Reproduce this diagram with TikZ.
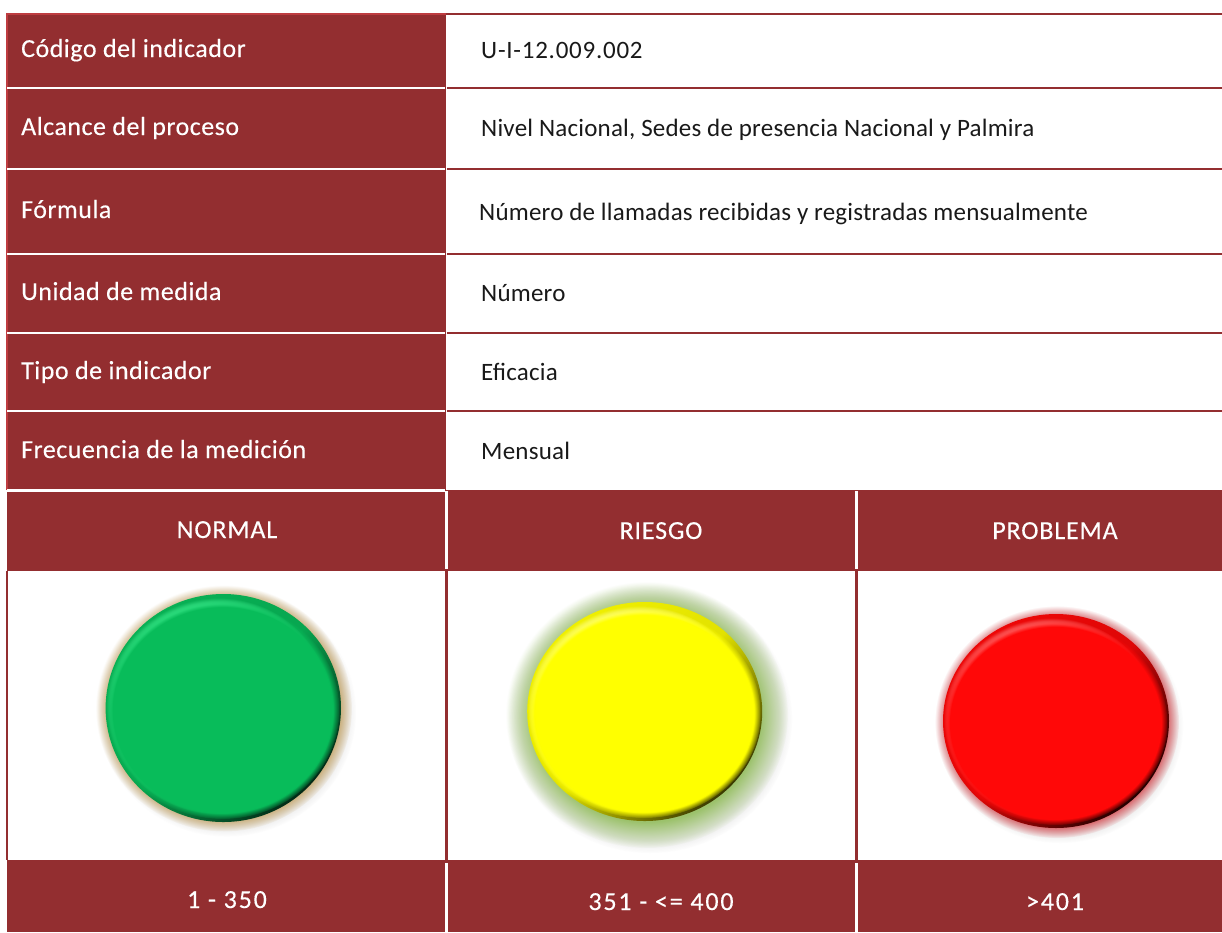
\documentclass[tikz,border=0pt]{standalone}
\usepackage{fontspec}
\setmainfont[LetterSpace=0.85]{Carlito}
\newfontfamily\digfont[LetterSpace=3]{Carlito}
\newfontfamily\labfont[LetterSpace=1.9,FakeBold=0.25]{Carlito}
\newfontfamily\headfont[LetterSpace=3.2,FakeBold=0.25]{Carlito}
\newfontfamily\numfont[LetterSpace=7,FakeBold=0.25]{Carlito}
\usetikzlibrary{fadings,shadings}
\definecolor{wine}{HTML}{932E30}
\definecolor{wineL}{HTML}{BE3C40}
\definecolor{gmain}{HTML}{08BC5A}
\definecolor{gdark}{HTML}{032A16}
\definecolor{glight}{HTML}{3CEB8C}
\definecolor{ghalo}{HTML}{C9AD78}
\definecolor{ymain}{HTML}{FFFF00}
\definecolor{ydark}{HTML}{3A3A00}
\definecolor{ylight}{HTML}{FFFF80}
\definecolor{yhalo}{HTML}{9CC26C}
\definecolor{rmain}{HTML}{FF0808}
\definecolor{rdark}{HTML}{240000}
\definecolor{rlight}{HTML}{FF7070}
\definecolor{rhalo}{HTML}{D8656A}
% the path's edge lies at 25bp of a fitted fading
\pgfdeclareradialshading{softsh}{\pgfpointorigin}{color(0bp)=(white); color(23.5bp)=(white); color(25bp)=(black); color(50bp)=(black)}
\pgfdeclarefading{softdisc}{\pgfuseshading{softsh}}
\pgfdeclareradialshading{haloTight}{\pgfpointorigin}{color(0bp)=(white); color(22.5bp)=(white); color(25bp)=(black); color(50bp)=(black)}
\pgfdeclarefading{halotight}{\pgfuseshading{haloTight}}
\pgfdeclareradialshading{haloWide}{\pgfpointorigin}{color(0bp)=(white); color(20bp)=(white); color(25bp)=(black); color(50bp)=(black)}
\pgfdeclarefading{halowide}{\pgfuseshading{haloWide}}
\tikzset{
  x=1pt,y=-1pt,
  lab/.style={anchor=base west,inner sep=0pt,text=white,font=\labfont\fontsize{26}{30}\selectfont},
  val/.style={anchor=base west,inner sep=0pt,text=black!90,font=\fontsize{25}{30}\selectfont},
  head/.style={anchor=base,inner sep=0pt,text=white,font=\headfont\fontsize{26}{30}\selectfont},
  numb/.style={anchor=base,inner sep=0pt,text=white,font=\numfont\fontsize{26}{30}\selectfont},
  cell/.style={fill=wine,draw=none},
}
% #1 cx #2 cy #3 rx #4 ry #5 colour prefix #6 halo cx #7 halo cy #8 halo rx #9 halo ry
\newcommand{\btn}[9]{%
  \fill[fill=gray!18,path fading=halotight,fit fading=true] (#6+3,#7+4) ellipse [x radius=#8+1,y radius=#9+1];
  \fill[fill=#5halo,path fading=\hf,fit fading=true] (#6,#7) ellipse [x radius=#8,y radius=#9];
  \shade[left color=#5main!92!#5dark,right color=#5dark,middle color=#5main!85!#5dark,shading angle=45] (#1,#2) ellipse [x radius=#3,y radius=#4];
  \begin{scope}
    \clip (#1,#2) ellipse [x radius=#3,y radius=#4];
    \fill[fill=#5light,path fading=softdisc,fit fading=true] (#1-5,#2-2) ellipse [x radius=#3-6,y radius=#4-6];
    \fill[fill=#5main,path fading=softdisc,fit fading=true] (#1-0.5,#2+2) ellipse [x radius=#3-1,y radius=#4-5];
  \end{scope}
}
\begin{document}
\begin{tikzpicture}
\useasboundingbox (0,0) rectangle (1222,932);
\fill[white] (0,0) rectangle (1222,932);
\fill[cell] (7,14) rectangle (446,490);
\fill[cell] (7,490) rectangle (1222,571);
\fill[cell] (7,860) rectangle (1222,932);
\fill[wineL] (6,13) rectangle (446,15);
\fill[wineL] (6,13) rectangle (8,490);
\draw[wine,line width=1.5] (7,571) -- (7,860);
\foreach \yy in {87.5,169,254,333,411}{
  \draw[white,line width=2] (7,\yy) -- (445,\yy);
  \draw[wine,line width=2] (447,\yy) -- (1222,\yy);
}
\draw[wine,line width=2] (446,14) -- (1222,14);
\draw[white,line width=2.5] (7,490.5) -- (445,490.5);
\foreach \xx in {446.5,856.5}{
  \draw[white,line width=2.5] (\xx,491) -- (\xx,569);
  \draw[wine,line width=2.5] (\xx,571) -- (\xx,860);
  \draw[white,line width=2.5] (\xx,863) -- (\xx,932);
}
\def\hf{halotight}
\btn{223.3}{708}{117.7}{114}{g}{224}{708.5}{128}{123}
\def\hf{halowide}
\btn{644.7}{711.5}{117.5}{109.5}{y}{647}{715}{141}{133}
\def\hf{halotight}
\btn{1056}{721}{113}{107}{r}{1057}{722}{122}{116}
\node[lab] (l1) at (21,57) {Código del indicador};
\node[lab] (l2) at (21,135) {Alcance del proceso};
\node[lab] (l3) at (21,218) {Fórmula};
\node[lab] (l4) at (21,300) {Unidad de medida};
\node[lab] (l5) at (21,379) {Tipo de indicador};
\node[lab] (l6) at (21,458) {Frecuencia de la medición};
\node[val] (v1) at (481,58) {\digfont U-I-12.009.002};
\node[val] (v2) at (481,136) {Nivel Nacional, Sedes de presencia Nacional y Palmira};
\node[val] (v3) at (479,220) {Número de llamadas recibidas y registradas mensualmente};
\node[val] (v4) at (481,301) {Número};
\node[val] (v5) at (481,380) {Eficacia};
\node[val] (v6) at (481,459) {Mensual};
\node[head] (h1) at (227,538) {NORMAL};
\node[head] (h2) at (661,539) {RIESGO};
\node[head] (h3) at (1055,539) {PROBLEMA};
\node[numb] (r1) at (227,908) {1 - 350};
\node[numb] (r2) at (661,910) {351 - <= 400};
\node[numb] (r3) at (1055,910) {>401};
\end{tikzpicture}
\end{document}
